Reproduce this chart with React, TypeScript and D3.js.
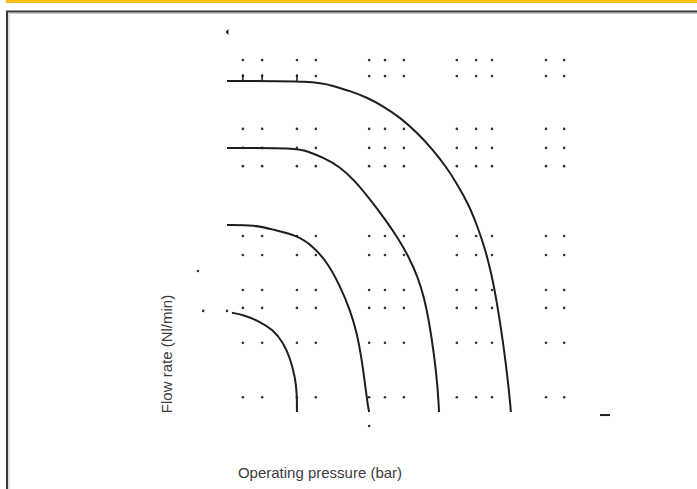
import React from 'react';
import * as d3 from 'd3';

// grid positions (pressure in bar, flow in Nl/min)
const gridPressure = [0.42, 0.93, 1.85, 2.35, 3.76, 4.18, 4.68, 6.08, 6.59, 7.01, 8.44, 8.92];
const gridFlow = [926, 884, 745, 695, 647, 463, 413, 321, 274, 182, 39];

// curve 1 (largest)
const curve1Pressure = [0, 2.35, 2.8, 3.25, 3.7, 4.13, 4.58, 5.03, 5.45, 5.8, 6.1, 6.4, 6.63, 6.82, 7.0, 7.12, 7.24, 7.33, 7.42, 7.49, 7.51];
const curve1Flow = [871, 871, 858, 845, 828, 805, 775, 735, 690, 645, 598, 545, 487, 432, 362, 300, 225, 163, 92, 25, 0];

// curve 2
const curve2Pressure = [0, 1.85, 2.12, 2.54, 2.99, 3.36, 3.78, 4.2, 4.55, 4.8, 5.05, 5.22, 5.36, 5.48, 5.57, 5.61];
const curve2Flow = [695, 695, 686, 670, 645, 611, 560, 505, 453, 410, 355, 300, 230, 150, 70, 0];

// curve 3
const curve3Pressure = [0, 0.74, 1.22, 1.85, 2.28, 2.65, 2.99, 3.25, 3.44, 3.57, 3.66, 3.73, 3.76];
const curve3Flow = [492, 492, 480, 465, 436, 394, 332, 270, 208, 135, 66, 15, 0];

// curve 4 (smallest)
const curve4Pressure = [0.13, 0.42, 0.87, 1.22, 1.48, 1.67, 1.8, 1.85, 1.85];
const curve4Flow = [261, 256, 238, 216, 184, 142, 92, 50, 0];

const curves = [
  { pressure: curve1Pressure, flow: curve1Flow },
  { pressure: curve2Pressure, flow: curve2Flow },
  { pressure: curve3Pressure, flow: curve3Flow },
  { pressure: curve4Pressure, flow: curve4Flow },
];

// little tick marks sitting on top of curve 1
const tickPressure = [0.42, 0.93, 1.85];
const tickTopFlow = 889;

// stray specks in the scan
const specksPressure = [-0.77, -0.63, 0, 3.76];
const specksFlow = [371, 266, 266, -37];

const xLabel = 'Operating pressure (bar)';
const yLabel = 'Flow rate (Nl/min)';

const W = 697;
const H = 489;
const FONT = '"Liberation Sans Narrow", "Arial Narrow", "Liberation Sans", sans-serif';

export default function App() {
  const x = d3.scaleLinear().domain([0, 10]).range([227, 605]);
  const y = d3.scaleLinear().domain([0, 1000]).range([412, 32]);

  const line = d3.line<[number, number]>()
    .x(d => x(d[0]))
    .y(d => y(d[1]))
    .curve(d3.curveBasis);

  return (
    <svg width={W} height={H} style={{ position: 'absolute', left: 0, top: 0, background: '#fff' }}>
      {/* yellow band and frame */}
      <rect x={6} y={0} width={W} height={3} fill="#fcc00e" />
      <rect x={7} y={11.5} width={W + 10} height={H} fill="none" stroke="#3a3a3a" strokeWidth={2} />
      <rect x={9} y={13.5} width={W + 10} height={H} fill="none" stroke="#c8c8c8" strokeWidth={1} />

      {/* dotted grid */}
      <g fill="#333">
        {gridFlow.map((f, i) =>
          gridPressure.map((p, j) => (
            <circle key={`${i}-${j}`} cx={x(p)} cy={y(f)} r={1.3} />
          ))
        )}
        {specksPressure.map((p, i) => (
          <circle key={`s${i}`} cx={x(p)} cy={y(specksFlow[i])} r={1.3} />
        ))}
      </g>

      {/* curves */}
      <g fill="none" stroke="#1e1e1e" strokeWidth={2}>
        {curves.map((c, i) => (
          <path key={i} d={line(c.pressure.map((p, k) => [p, c.flow[k]] as [number, number])) || ''} />
        ))}
        {tickPressure.map((p, i) => (
          <line key={`t${i}`} x1={x(p)} x2={x(p)} y1={y(tickTopFlow)} y2={y(curve1Flow[0])} strokeWidth={1.5} />
        ))}
      </g>

      {/* marker at top of y axis and dash at end of x axis */}
      <path d={`M${x(0) + 1.5},${y(1000) - 3} L${x(0) - 1.5},${y(1000)} L${x(0) + 1.5},${y(1000) + 3} Z`} fill="#222" />
      <line x1={x(10) - 5} x2={x(10) + 5} y1={y(-8)} y2={y(-8)} stroke="#222" strokeWidth={2} />

      {/* axis titles */}
      <text x={320} y={478} textAnchor="middle" fontFamily={FONT} fontSize={15} fill="#3c3c3c">
        {xLabel}
      </text>
      <text transform="translate(172,354) rotate(-90)" textAnchor="middle" fontFamily={FONT} fontSize={15} fill="#3c3c3c">
        {yLabel}
      </text>
    </svg>
  );
}
